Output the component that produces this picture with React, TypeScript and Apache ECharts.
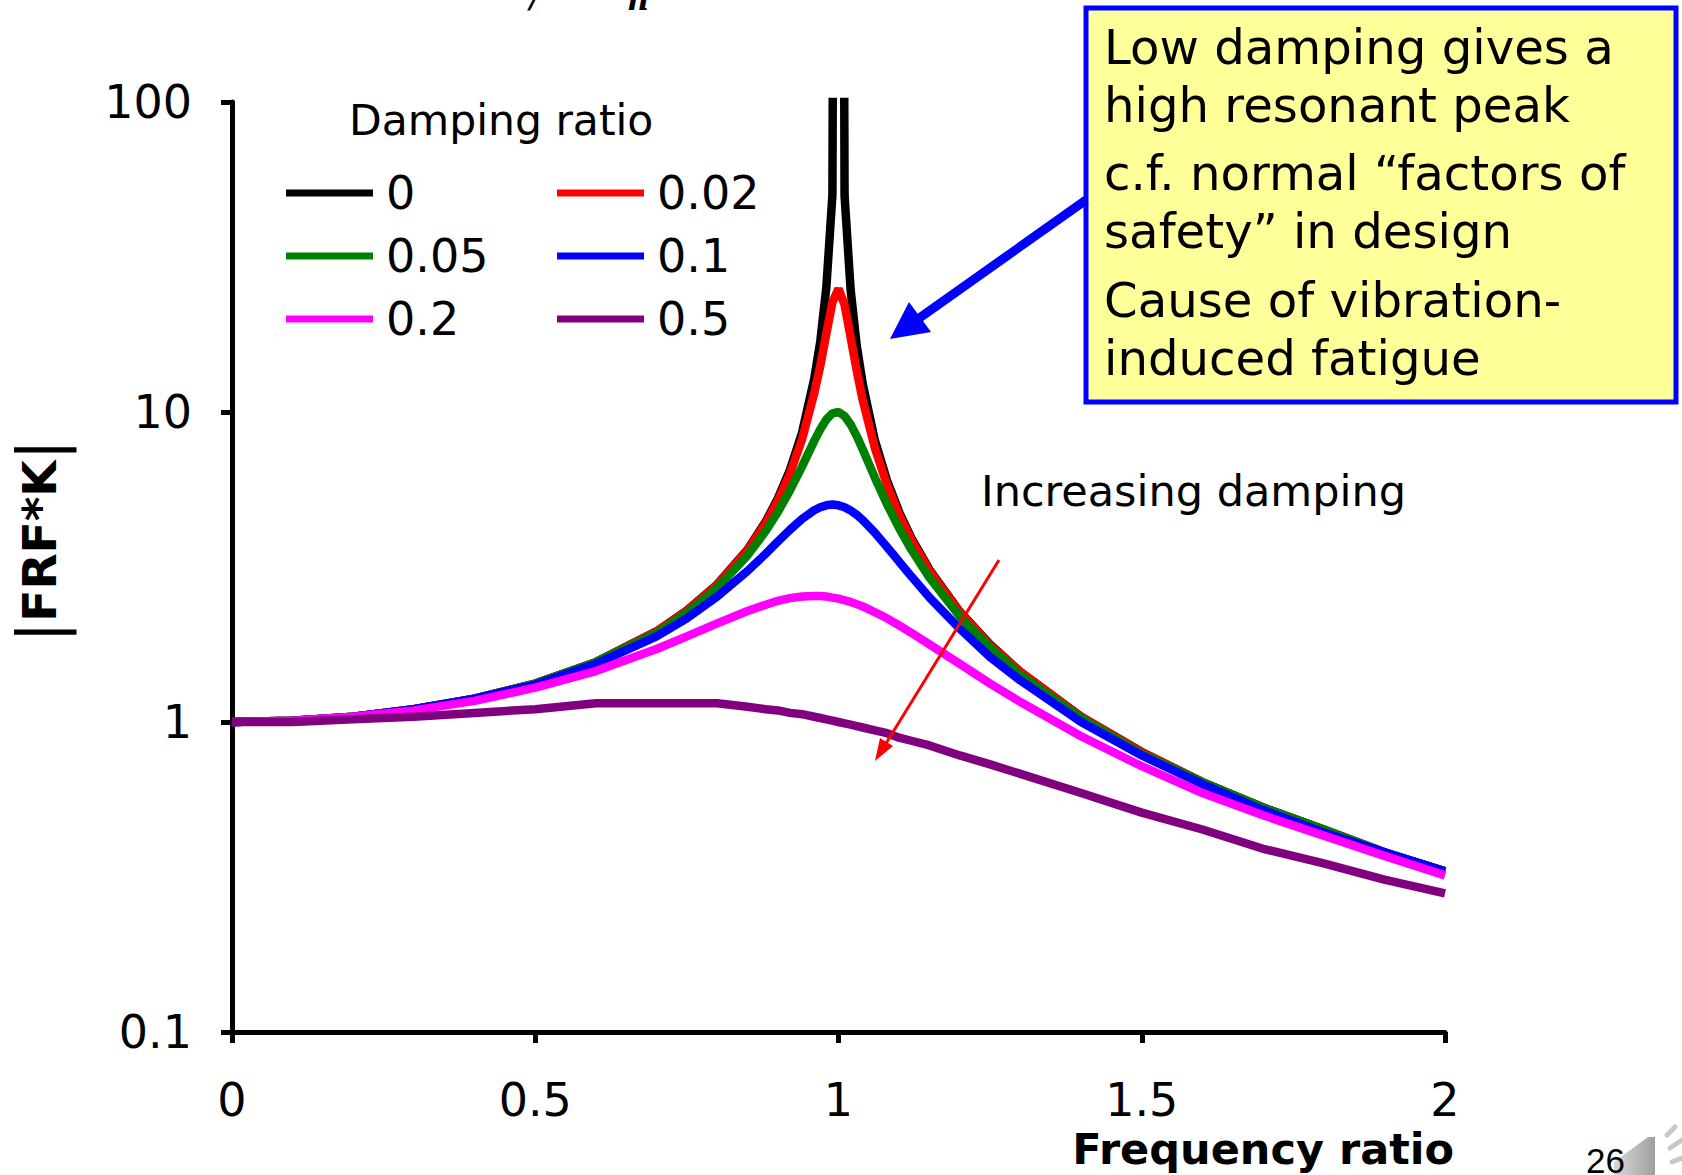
import React, { useEffect, useRef } from "react";
import * as echarts from "echarts";

// Frequency ratio (x) sample points
const freqRatio = [0, 0.1, 0.2, 0.3, 0.4, 0.5, 0.6, 0.7, 0.75, 0.8, 0.85, 0.88, 0.9, 0.92, 0.94, 0.96, 0.97, 0.98, 0.99, 1.0, 1.01, 1.02, 1.03, 1.04, 1.06, 1.08, 1.1, 1.12, 1.15, 1.2, 1.25, 1.3, 1.4, 1.5, 1.6, 1.7, 1.8, 1.9, 2.0];

// |FRF*K| for each damping ratio
const zeta0 = [1, 1.01, 1.04, 1.1, 1.19, 1.33, 1.56, 1.96, 2.29, 2.78, 3.6, 4.43, 5.26, 6.51, 8.59, 12.8, 16.9, 25.3, 50.3, 1e8, 49.8, 24.8, 16.4, 12.3, 8.09, 6.01, 4.76, 3.93, 3.1, 2.27, 1.78, 1.45, 1.04, 0.8, 0.64, 0.53, 0.45, 0.38, 0.33];
const zeta002 = [1, 1.01, 1.04, 1.1, 1.19, 1.33, 1.56, 1.96, 2.28, 2.77, 3.58, 4.38, 5.17, 6.33, 8.18, 11.5, 14.1, 17.9, 22.6, 25, 22.2, 17.4, 13.6, 10.9, 7.65, 5.82, 4.66, 3.87, 3.07, 2.26, 1.77, 1.45, 1.04, 0.8, 0.64, 0.53, 0.45, 0.38, 0.33];
const zeta005 = [1, 1.01, 1.04, 1.1, 1.19, 1.33, 1.56, 1.94, 2.25, 2.71, 3.45, 4.13, 4.76, 5.59, 6.68, 8.07, 8.8, 9.46, 9.9, 10, 9.71, 9.12, 8.36, 7.57, 6.14, 5.04, 4.22, 3.6, 2.92, 2.19, 1.74, 1.42, 1.03, 0.79, 0.64, 0.53, 0.45, 0.38, 0.33];
const zeta01 = [1, 1.01, 1.04, 1.1, 1.19, 1.32, 1.54, 1.89, 2.16, 2.54, 3.07, 3.49, 3.82, 4.17, 4.52, 4.82, 4.93, 5, 5.03, 5, 4.93, 4.81, 4.66, 4.48, 4.08, 3.67, 3.29, 2.95, 2.52, 2, 1.62, 1.36, 1, 0.78, 0.63, 0.52, 0.44, 0.38, 0.33];
const zeta02 = [1, 1.01, 1.04, 1.09, 1.17, 1.29, 1.46, 1.72, 1.89, 2.08, 2.28, 2.39, 2.46, 2.51, 2.54, 2.55, 2.55, 2.54, 2.52, 2.5, 2.47, 2.44, 2.4, 2.36, 2.26, 2.16, 2.05, 1.94, 1.78, 1.54, 1.33, 1.16, 0.9, 0.72, 0.59, 0.5, 0.43, 0.37, 0.32];
const zeta05 = [1, 1, 1.02, 1.04, 1.07, 1.1, 1.15, 1.15, 1.15, 1.15, 1.12, 1.1, 1.09, 1.07, 1.06, 1.04, 1.03, 1.02, 1.01, 1, 0.99, 0.98, 0.97, 0.96, 0.94, 0.92, 0.89, 0.87, 0.84, 0.78, 0.73, 0.68, 0.59, 0.51, 0.45, 0.39, 0.35, 0.31, 0.28];

const seriesNames = ["0", "0.02", "0.05", "0.1", "0.2", "0.5"];
const seriesValues = [zeta0, zeta002, zeta005, zeta01, zeta02, zeta05];
const seriesColors = ["#000000", "#ff0000", "#008000", "#0000ff", "#ff00ff", "#800080"];
const legendCol1 = ["0", "0.05", "0.2"];
const legendCol2 = ["0.02", "0.1", "0.5"];

const FONT = "DejaVu Sans";

export default function App() {
  const ref = useRef<HTMLDivElement>(null);
  useEffect(() => {
    if (!ref.current) return;
    const chart = echarts.init(ref.current, null, { renderer: "svg" });
    const legendBase = {
      orient: "vertical",
      top: 164,
      itemWidth: 87,
      itemHeight: 7,
      itemGap: 15,
      icon: "rect",
      selectedMode: false,
      textStyle: { fontSize: 46, lineHeight: 48, color: "#000", fontFamily: FONT, padding: [0, 0, 0, 8] },
    };
    chart.setOption({
      animation: false,
      backgroundColor: "#ffffff",
      textStyle: { fontFamily: FONT },
      title: {
        text: "Damping ratio",
        left: 349,
        top: 99,
        padding: 0,
        textStyle: { fontSize: 42.5, fontWeight: "normal", color: "#000", fontFamily: FONT },
      },
      legend: [
        { ...legendBase, left: 281, data: legendCol1 },
        { ...legendBase, left: 552, data: legendCol2 },
      ],
      grid: { left: 231, right: 237, top: 102, bottom: 143 },
      xAxis: {
        type: "value",
        min: 0,
        max: 2,
        interval: 0.5,
        axisLine: { lineStyle: { color: "#000", width: 5 } },
        axisTick: { length: 11, lineStyle: { color: "#000", width: 5 } },
        axisLabel: { fontSize: 46, color: "#000", margin: 45, fontFamily: FONT },
        splitLine: { show: false },
        name: "Frequency ratio",
        nameLocation: "end",
        nameGap: 9,
        nameTextStyle: {
          fontSize: 43,
          fontWeight: "bold",
          color: "#000",
          fontFamily: FONT,
          align: "right",
          verticalAlign: "top",
          padding: [95, 0, 0, 0],
        },
      },
      yAxis: {
        type: "log",
        logBase: 10,
        min: 0.1,
        max: 100,
        axisLine: { lineStyle: { color: "#000", width: 5 } },
        axisTick: { length: 11, lineStyle: { color: "#000", width: 5 } },
        axisLabel: { fontSize: 46, color: "#000", margin: 40, fontFamily: FONT },
        splitLine: { show: false },
        name: "{p||}FRF*K{p||}",
        nameLocation: "middle",
        nameRotate: 90,
        nameGap: 162,
        nameTextStyle: {
          fontSize: 47,
          fontWeight: "bold",
          color: "#000",
          fontFamily: FONT,
          padding: [0, 0, 0, 52],
          rich: {
            p: { fontSize: 62, fontWeight: "normal", color: "#000", fontFamily: FONT },
          },
        },
      },
      series: seriesNames.map((name, i) => ({
        name,
        type: "line",
        symbol: "none",
        showSymbol: false,
        clip: true,
        color: seriesColors[i],
        lineStyle: { color: seriesColors[i], width: 8.5 },
        data: freqRatio.map((x, j) => [x, seriesValues[i][j]]),
      })),
      graphic: [
        // annotation box
        {
          type: "rect",
          z: 100,
          shape: { x: 1086, y: 8, width: 590, height: 394 },
          style: { fill: "#ffff99", stroke: "#0000ff", lineWidth: 5 },
        },
        {
          type: "text",
          z: 101,
          x: 1104,
          y: 18,
          style: { text: "Low damping gives a\nhigh resonant peak", fontSize: 48.2, lineHeight: 58, fill: "#000", fontFamily: FONT, verticalAlign: "top" },
        },
        {
          type: "text",
          z: 101,
          x: 1104,
          y: 144,
          style: { text: "c.f. normal \u201cfactors of\nsafety\u201d in design", fontSize: 48.2, lineHeight: 58, fill: "#000", fontFamily: FONT, verticalAlign: "top" },
        },
        {
          type: "text",
          z: 101,
          x: 1104,
          y: 271,
          style: { text: "Cause of vibration-\ninduced fatigue", fontSize: 48.2, lineHeight: 58, fill: "#000", fontFamily: FONT, verticalAlign: "top" },
        },
        // blue arrow
        {
          type: "line",
          z: 100,
          shape: { x1: 1086, y1: 200, x2: 918, y2: 319 },
          style: { stroke: "#0000ff", lineWidth: 9 },
        },
        {
          type: "polygon",
          z: 100,
          shape: { points: [[890, 339], [931, 332], [909, 302]] },
          style: { fill: "#0000ff" },
        },
        // red arrow
        {
          type: "line",
          z: 100,
          shape: { x1: 999, y1: 560, x2: 885, y2: 745 },
          style: { stroke: "#ff0000", lineWidth: 3 },
        },
        {
          type: "polygon",
          z: 100,
          shape: { points: [[875, 761], [893, 746], [880, 738]] },
          style: { fill: "#ff0000" },
        },
        {
          type: "text",
          z: 100,
          x: 981,
          y: 491,
          style: { text: "Increasing damping", fontSize: 43, fill: "#000", fontFamily: FONT, verticalAlign: "middle" },
        },
        // slide number and speaker icon
        {
          type: "text",
          z: 100,
          x: 1586,
          y: 1160,
          style: { text: "26", fontSize: 35, fill: "#000", fontFamily: "Liberation Sans", verticalAlign: "middle" },
        },
        {
          type: "polygon",
          z: 99,
          shape: { points: [[1614, 1175], [1614, 1162], [1648, 1137], [1655, 1137], [1655, 1175]] },
          style: {
            fill: new echarts.graphic.LinearGradient(0, 0, 1, 0, [
              { offset: 0, color: "#d8d8d8" },
              { offset: 1, color: "#a0a0a0" },
            ]),
          },
        },
        {
          type: "line",
          z: 99,
          shape: { x1: 1667, y1: 1135, x2: 1675, y2: 1127 },
          style: { stroke: "#c8c8c8", lineWidth: 5, lineCap: "round" },
        },
        {
          type: "line",
          z: 99,
          shape: { x1: 1670, y1: 1148, x2: 1682, y2: 1140 },
          style: { stroke: "#c8c8c8", lineWidth: 5, lineCap: "round" },
        },
        {
          type: "line",
          z: 99,
          shape: { x1: 1672, y1: 1162, x2: 1682, y2: 1158 },
          style: { stroke: "#c8c8c8", lineWidth: 5, lineCap: "round" },
        },
        // cut-off formula fragments at top
        {
          type: "text",
          z: 100,
          x: 530,
          y: 12,
          style: { text: "/", fontSize: 36, fill: "#000", fontFamily: "DejaVu Serif", fontStyle: "italic", verticalAlign: "bottom" },
        },
        {
          type: "text",
          z: 100,
          x: 627,
          y: 14,
          style: { text: "n", fontSize: 30, fill: "#000", fontFamily: "DejaVu Serif", fontStyle: "italic", fontWeight: "bold", verticalAlign: "bottom" },
        },
      ],
    });
    return () => chart.dispose();
  }, []);
  return <div ref={ref} style={{ position: "absolute", left: 0, top: 0, width: 1682, height: 1175 }} />;
}
